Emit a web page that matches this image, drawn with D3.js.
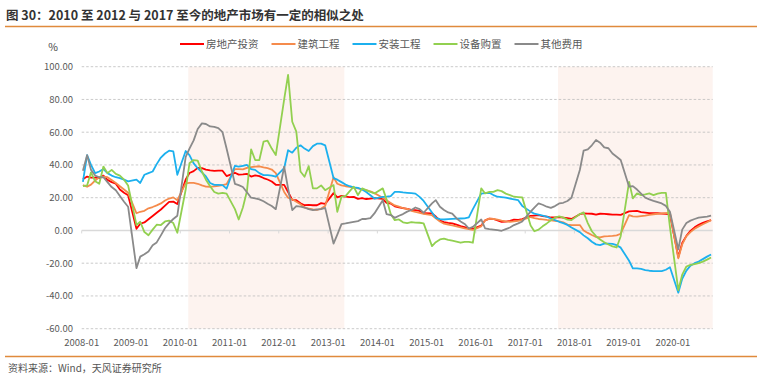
<!DOCTYPE html>
<html>
<head>
<meta charset="utf-8">
<script src="https://cdn.jsdelivr.net/npm/d3@7"></script>
<style>
  body { margin: 0; background: #fff; }
  svg text { font-family: "Noto Sans CJK SC", "Noto Sans", sans-serif; }
</style>
</head>
<body>
<svg id="chart" width="782" height="380"></svg>
<script>
var title = '图 30：2010 至 2012 与 2017 至今的地产市场有一定的相似之处';
var source = '资料来源：Wind，天风证券研究所';

var seriesNames = ['房地产投资', '建筑工程', '安装工程', '设备购置', '其他费用'];
var seriesColors = ['#ff0000', '#f58b4c', '#1cb0ee', '#92d050', '#8a8a8a'];

var yTicks = [-60, -40, -20, 0, 20, 40, 60, 80, 100];
var xTickLabels = ['2008-01', '2009-01', '2010-01', '2011-01', '2012-01', '2013-01', '2014-01',
  '2015-01', '2016-01', '2017-01', '2018-01', '2019-01', '2020-01'];

// shaded periods (start month, end month)
var shadePeriods = [['2010-03', '2013-05'], ['2017-09', '2020-11']];

// monthly, 2008-01 .. 2020-10, january mostly not published (null)
var realEstate = [
  31.3, 32.9, 32.2, 32.2, 31.9, 33.5, 30.9, 29.5, 28.5, 25.0, 23.0, 21.5,
  null, 1.0, 4.1, 4.9, 6.8, 8.8, 10.8, 12.8, 15.2, 17.5, 17.6, 16.1,
  null, 31.1, 35.1, 36.2, 38.2, 38.1, 37.2, 36.7, 36.4, 36.5, 36.5, 33.2,
  null, 35.2, 34.1, 34.3, 34.6, 32.9, 33.6, 33.2, 32.0, 31.1, 29.9, 27.9,
  null, 27.8, 23.5, 18.7, 18.5, 16.6, 15.4, 15.6, 15.4, 15.4, 16.7, 16.2,
  null, 22.8, 20.2, 21.1, 20.6, 20.3, 20.5, 19.3, 19.7, 19.2, 19.5, 19.8,
  null, 19.3, 16.8, 16.4, 14.7, 14.1, 13.7, 13.2, 12.5, 12.4, 11.9, 10.5,
  null, 10.4, 8.5, 6.0, 5.1, 4.6, 4.3, 3.5, 2.6, 2.0, 1.3, 1.0,
  null, 3.0, 6.2, 7.2, 7.0, 6.1, 5.3, 5.4, 5.8, 6.6, 6.5, 6.9,
  null, 8.9, 9.1, 9.3, 8.8, 8.5, 7.9, 7.9, 8.1, 7.8, 7.5, 7.0,
  null, 9.9, 10.4, 10.3, 10.2, 9.7, 10.2, 10.1, 9.9, 9.7, 9.7, 9.5,
  null, 11.6, 11.8, 11.9, 11.2, 10.9, 10.6, 10.5, 10.5, 10.3, 10.2, 9.9,
  null, -16.3, -7.7, -3.3, -0.3, 1.9, 3.4, 4.6, 5.6, 6.3
];

var construction = [
  27.7, 26.7, 28.0, 30.5, 32.4, 32.8, 32.5, 30.8, 29.0, 27.0, 25.0, 23.0,
  null, 10.5, 11.4, 12.0, 13.5, 14.3, 15.3, 16.5, 18.3, 19.5, 20.2, 18.5,
  null, 28.7, 29.1, 29.0, 28.5, 27.5, 26.8, 26.7, 26.9, 27.3, 27.7, 28.3,
  null, 37.5, 37.5, 37.3, 38.2, 38.7, 39.0, 39.2, 38.5, 38.0, 37.2, 35.0,
  null, 23.5, 20.0, 19.0, 17.5, 16.0, 14.0, 13.4, 12.8, 12.5, 13.4, 15.0,
  null, 32.5, 28.5, 27.5, 27.0, 26.6, 26.2, 25.7, 25.1, 24.6, 23.9, 22.8,
  null, 20.0, 18.5, 16.8, 15.3, 14.5, 13.7, 13.2, 12.0, 11.3, 10.8, 10.1,
  null, 9.3, 7.5, 5.5, 4.1, 3.6, 3.1, 2.5, 1.9, 1.2, 0.8, 0.3,
  null, 2.5, 6.2, 7.2, 7.0, 6.6, 6.0, 5.5, 5.3, 5.5, 5.9, 6.4,
  null, 8.2, 7.6, 7.0, 6.7, 6.4, 6.2, 5.9, 5.5, 5.0, 3.6, 3.2,
  null, 3.3, 0.0, -1.5, -2.8, -4.0, -4.3, -3.6, -3.5, -3.3, -3.0, -2.0,
  null, 9.4, 8.6, 8.5, 8.8, 9.1, 9.5, 9.9, 10.2, 10.4, 10.6, 10.8,
  null, -17.0, -8.5, -3.5, -1.0, 1.0, 2.5, 3.8, 5.0, 6.3
];

var installation = [
  29.7, 46.0, 40.0, 35.0, 36.0, 37.5, 35.0, 33.5, 32.5, 32.0, 31.0, 30.0,
  null, 31.0, 29.0, 34.0, 35.0, 36.0, 40.5, 44.5, 47.0, 48.7, 48.3, 34.0,
  null, 48.5, 46.0, 41.0, 38.0, 35.5, 33.0, 29.0, 27.8, 27.8, 27.7, 25.5,
  null, 39.5, 39.0, 39.5, 40.0, 37.5, 37.0, 35.0, 33.8, 33.8, 33.5, 32.8,
  null, 38.0, 49.0, 47.5, 50.5, 52.0, 50.0, 48.5, 51.5, 53.0, 53.0, 52.0,
  null, 32.0, 31.0, 29.5, 28.0, 27.0, 26.3, 26.0, 25.0, 23.5, 21.5, 19.5,
  null, 20.5, 20.6, 21.0, 23.5, 23.5, 23.2, 23.0, 22.8, 22.5, 20.5, 18.0,
  null, 11.0, 7.7, 6.9, 6.7, 6.9, 7.1, 7.2, 7.3, 7.4, 8.0, 13.0,
  null, 22.5, 22.8, 23.0, 21.6, 20.6, 20.3, 20.0, 19.5, 19.0, 18.5, 15.0,
  null, 11.5, 10.2, 9.6, 9.0, 8.4, 7.3, 6.3, 5.3, 4.5, 3.4, 1.8,
  null, -1.0, -3.0, -4.8, -6.9, -8.5, -9.0, -8.0, -8.0, -8.2, -9.0, -10.5,
  null, -18.5, -23.2, -23.2, -23.5, -24.2, -24.6, -24.8, -24.8, -24.8, -24.0, -22.5,
  null, -38.0, -29.5, -24.5, -21.5, -20.0, -19.0, -17.5, -16.0, -14.7
];

var equipment = [
  27.0, 27.5, 35.5, 30.0, 28.5, 39.0, 35.0, 37.0, 34.5, 33.5, 31.0, 27.5,
  null, 3.3, 5.3, -1.0, -2.9, 0.5, 3.5, 3.3, 5.5, 6.0, 4.5, -1.4,
  null, 25.0, 41.0, 43.0, 42.6, 36.0, 31.0, 27.0, 23.5, 22.5, 23.0, 22.5,
  null, 13.0, 6.7, 14.0, 24.0, 49.5, 43.0, 43.0, 54.2, 54.8, 50.0, 46.0,
  null, 80.0, 95.0, 66.4, 60.3, 36.0, 32.8, 39.3, 25.7, 25.7, 27.5, 24.6,
  null, 27.7, 11.4, 20.6, 21.0, 24.0, 26.7, 21.6, 25.7, 24.6, 23.5, 22.6,
  null, 25.7, 19.0, 10.0, 6.3, 6.7, 5.0, 4.5, 5.1, 4.8, 4.7, 4.3,
  null, -9.6, -7.2, -5.5, -5.0, -5.7, -6.2, -6.8, -7.5, -7.0, -7.0, -7.5,
  null, 25.7, 22.6, 23.5, 23.6, 24.6, 24.0, 22.5, 21.6, 20.6, 20.4, 20.2,
  null, 3.0, -0.5, 0.5, 2.5, 4.3, 6.2, 7.8, 8.6, 7.8, 6.6, 6.3,
  null, 10.0, 11.0, 4.5, -0.5, -3.5, -5.5, -7.2, -8.6, -9.7, -10.4, -3.5,
  null, 29.7, 19.6, 22.6, 21.6, 22.0, 22.6, 21.6, 22.5, 23.0, 23.0, 2.0,
  null, -36.5, -27.0, -22.0, -21.0, -20.5, -20.0, -19.0, -17.8, -16.5
];

var otherCost = [
  36.5, 46.0, 37.0, 33.5, 32.5, 32.5, 29.5, 26.5, 24.5, 21.0, 17.5, 14.5,
  null, -23.0, -16.0, -14.5, -12.8, -9.0, -7.3, -3.0, 1.5, 4.5, 7.0, 9.0,
  null, 45.0, 50.0, 55.0, 62.0, 65.4, 65.0, 63.5, 63.3, 62.5, 60.0, 50.0,
  null, 28.5, 27.7, 26.5, 23.3, 20.0, 19.6, 19.0, 17.8, 16.3, 14.9, 13.0,
  null, 38.9, 25.7, 12.4, 14.9, 14.5, 14.0, 13.0, 12.4, 12.8, 13.0, 13.8,
  null, -8.0, -2.5, 3.9, 4.3, 4.8, 5.3, 5.7, 7.0, 7.0, 7.5, 10.4,
  null, 18.5, 10.0, 9.4, 7.7, 9.0, 10.0, 11.5, 12.5, 14.0, 13.0, 10.8,
  null, 16.5, 18.5, 14.5, 12.5, 11.0, 10.3, 7.5, 5.5, 4.0, 1.2, 2.2,
  null, 6.7, 1.2, 0.8, 0.5, 0.2, -0.2, 0.8, 1.8, 3.3, 4.3, 5.5,
  null, 11.5, 14.0, 16.5, 15.7, 14.5, 13.8, 14.9, 16.5, 16.9, 18.0, 20.0,
  null, 36.9, 48.7, 49.5, 52.0, 55.2, 53.6, 50.7, 50.2, 47.0, 45.0, 43.0,
  null, 26.7, 27.1, 25.0, 22.5, 20.0, 19.0, 18.1, 17.3, 16.5, 15.0, 11.4,
  null, -11.5, 0.5, 4.5, 6.0, 7.0, 7.8, 8.2, 8.5, 9.0
];

var seriesValues = [realEstate, construction, installation, equipment, otherCost];

var months = d3.timeMonth.range(new Date(2008, 0, 1), new Date(2020, 10, 1));
var parseMonth = d3.timeParse('%Y-%m');

var plot = {left: 81.7, right: 712.7, top: 66.7, bottom: 328.7};
var xEnd = new Date(2020, 9, 22);

var svg = d3.select('#chart');

var x = d3.scaleTime()
  .domain([months[0], xEnd])
  .range([plot.left, plot.right]);

var y = d3.scaleLinear()
  .domain([d3.min(yTicks), d3.max(yTicks)])
  .range([plot.bottom, plot.top]);

// title + rules
svg.append('text')
  .attr('x', 6)
  .attr('y', 20)
  .attr('font-size', '12.5px')
  .attr('font-weight', 'bold')
  .attr('fill', '#333')
  .text(title);

svg.append('line')
  .attr('x1', 5).attr('x2', 757)
  .attr('y1', 26.5).attr('y2', 26.5)
  .attr('stroke', '#e08a3c')
  .attr('stroke-width', 1.5);

svg.append('line')
  .attr('x1', 5).attr('x2', 757)
  .attr('y1', 356.5).attr('y2', 356.5)
  .attr('stroke', '#e08a3c')
  .attr('stroke-width', 1.5);

svg.append('text')
  .attr('x', 8)
  .attr('y', 372)
  .attr('font-size', '10px')
  .attr('fill', '#555')
  .text(source);

// shaded periods
svg.selectAll('.shade')
  .data(shadePeriods)
  .enter().append('rect')
  .attr('class', 'shade')
  .attr('x', function(d) { return x(parseMonth(d[0])); })
  .attr('width', function(d) {
    var end = Math.min(x(parseMonth(d[1])), plot.right);
    return end - x(parseMonth(d[0]));
  })
  .attr('y', y(d3.max(yTicks)))
  .attr('height', y(d3.min(yTicks)) - y(d3.max(yTicks)))
  .attr('fill', '#fdf3ef');

// grid
yTicks.forEach(function(t) {
  var line = svg.append('line')
    .attr('x1', plot.left).attr('x2', plot.right)
    .attr('y1', y(t)).attr('y2', y(t));
  if (t === 0) {
    line.attr('stroke', '#d9d9d9').attr('stroke-width', 1.5);
  } else {
    line.attr('stroke', '#bdbdbd').attr('stroke-width', 0.8)
      .attr('stroke-dasharray', '2.5,2');
  }
  svg.append('text')
    .attr('x', 73)
    .attr('y', y(t))
    .attr('dy', '0.35em')
    .attr('text-anchor', 'end')
    .attr('font-size', '9.5px')
    .attr('fill', '#595959')
    .text(t.toFixed(2));
});

svg.append('text')
  .attr('x', 53)
  .attr('y', 51)
  .attr('text-anchor', 'middle')
  .attr('font-size', '10.5px')
  .attr('fill', '#404040')
  .text('%');

// x ticks on the zero line, labels at the bottom
xTickLabels.forEach(function(label) {
  var xp = x(parseMonth(label));
  svg.append('line')
    .attr('x1', xp).attr('x2', xp)
    .attr('y1', y(0)).attr('y2', y(0) + 3)
    .attr('stroke', '#d9d9d9')
    .attr('stroke-width', 1);
  svg.append('text')
    .attr('x', xp)
    .attr('y', 345.5)
    .attr('text-anchor', 'middle')
    .attr('font-size', '9.5px')
    .attr('fill', '#595959')
    .text(label);
});

// lines (january gaps are bridged like excel does)
function seriesPoints(values) {
  return values.map(function(v, i) {
    return {date: d3.timeDay.offset(months[i], 9), value: v};
  }).filter(function(d) { return d.value !== null; });
}

var lineGen = d3.line()
  .x(function(d) { return x(d.date); })
  .y(function(d) { return y(d.value); });

seriesValues.forEach(function(values, i) {
  svg.append('path')
    .datum(seriesPoints(values))
    .attr('d', lineGen)
    .attr('fill', 'none')
    .attr('stroke', seriesColors[i])
    .attr('stroke-width', 1.8)
    .attr('stroke-linejoin', 'round');
});

// legend
var legendX = 180;
seriesNames.forEach(function(name, i) {
  svg.append('line')
    .attr('x1', legendX).attr('x2', legendX + 24)
    .attr('y1', 44).attr('y2', 44)
    .attr('stroke', seriesColors[i])
    .attr('stroke-width', 2);
  var label = svg.append('text')
    .attr('x', legendX + 26)
    .attr('y', 44)
    .attr('dy', '0.36em')
    .attr('font-size', '10.5px')
    .attr('fill', '#595959')
    .text(name);
  legendX += 26 + label.node().getComputedTextLength() + 13;
});
</script>
</body>
</html>
